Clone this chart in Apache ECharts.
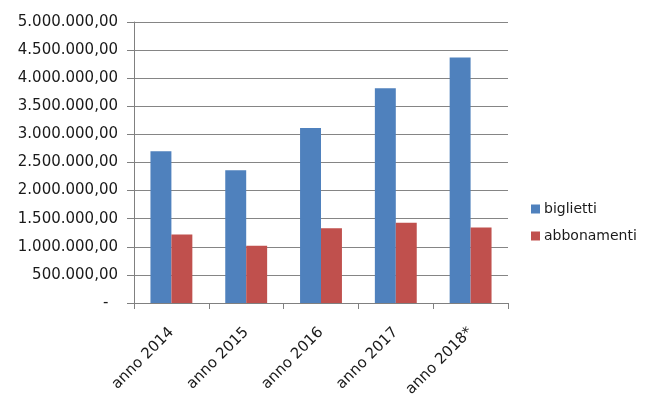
<!DOCTYPE html>
<html>
<head>
<meta charset="utf-8">
<script src="https://cdn.jsdelivr.net/npm/echarts@6/dist/echarts.min.js"></script>
<style>
html,body{margin:0;padding:0;background:#fff;}
#chart{width:650px;height:406px;}
</style>
</head>
<body>
<div id="chart"></div>
<script>
const categories = ['anno 2014', 'anno 2015', 'anno 2016', 'anno 2017', 'anno 2018*'];
const biglietti = [2700000, 2360000, 3115000, 3820000, 4370000];
const abbonamenti = [1220000, 1020000, 1330000, 1430000, 1345000];
const seriesNames = ['biglietti', 'abbonamenti'];

function fmt(v) {
  if (v === 0) return '-  ';
  const s = Math.round(v).toString().replace(/\B(?=(\d{3})+(?!\d))/g, '.');
  return s + ',00';
}

const font = 'DejaVu Sans, Verdana, sans-serif';
const chart = echarts.init(document.getElementById('chart'), null, {renderer: 'canvas'});
chart.setOption({
  animation: false,
  backgroundColor: '#ffffff',
  grid: {left: 134, right: 142, top: 22, bottom: 103, containLabel: false},
  legend: {
    orient: 'vertical',
    left: 526,
    top: 197,
    itemWidth: 9,
    itemHeight: 9,
    itemGap: 13,
    icon: 'rect',
    textStyle: {fontFamily: font, fontSize: 14, color: '#1a1a1a', padding: [0, 0, 0, -1]},
    data: seriesNames
  },
  xAxis: {
    type: 'category',
    data: categories,
    axisLine: {lineStyle: {color: '#808080', width: 1}},
    axisTick: {show: true, length: 6, alignWithLabel: false, lineStyle: {color: '#808080'}},
    axisLabel: {rotate: 45, margin: 27, fontFamily: font, fontSize: 15, color: '#1a1a1a', interval: 0}
  },
  yAxis: {
    type: 'value',
    min: 0,
    max: 5000000,
    interval: 500000,
    axisLine: {show: true, lineStyle: {color: '#808080', width: 1}},
    axisTick: {show: true, length: 7, lineStyle: {color: '#808080'}},
    splitLine: {lineStyle: {color: '#858585', width: 1}},
    axisLabel: {margin: 16, fontFamily: font, fontSize: 15, color: '#1a1a1a', formatter: fmt}
  },
  series: [
    {name: seriesNames[0], type: 'bar', data: biglietti, barGap: '0%', barCategoryGap: '44%',
     itemStyle: {color: '#4F81BD'}},
    {name: seriesNames[1], type: 'bar', data: abbonamenti, barGap: '0%', barCategoryGap: '44%',
     itemStyle: {color: '#C0504D'}}
  ]
});
</script>
</body>
</html>
